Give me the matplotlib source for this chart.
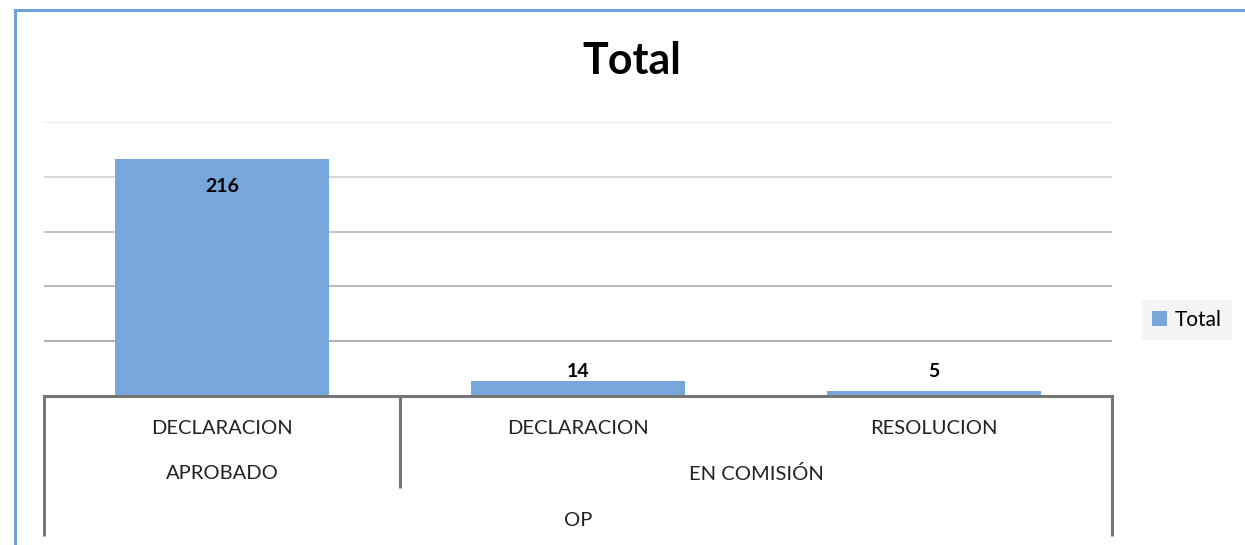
import matplotlib.pyplot as plt
from matplotlib.lines import Line2D
import matplotlib.transforms as mtransforms

plt.rcParams['font.family'] = ['Lato', 'DejaVu Sans']

# datos
tipos = ['DECLARACION', 'DECLARACION', 'RESOLUCION']
estados = ['APROBADO', 'EN COMISIÓN']
estado_grupos = [[0], [1, 2]]   # que tipos van en cada estado
grupo_top = 'OP'
totales = [216, 14, 5]
serie = 'Total'

W, H = 1245, 545
fig = plt.figure(figsize=(W / 100, H / 100), dpi=100)
ax = fig.add_axes([44 / W, (H - 396) / H, 1068 / W, 274 / H])

color_barra = '#77a7da'
x = list(range(len(totales)))
ax.bar(x, totales, width=0.6, color=color_barra, label=serie, zorder=3)

ax.set_xlim(-0.5, len(totales) - 0.5)
ax.set_ylim(0, 250)

# lineas de cuadricula (mas claras arriba)
grid_y = [50, 100, 150, 200, 250]
grid_c = ['#a9a9a9', '#b3b3b3', '#c0c0c0', '#d6d6d6', '#e8e8e8']
for gy, gc in zip(grid_y, grid_c):
    ax.axhline(gy, color=gc, lw=1.3, zorder=1)

for s in ['top', 'right', 'left']:
    ax.spines[s].set_visible(False)
ax.spines['bottom'].set_color('#767676')
ax.spines['bottom'].set_linewidth(2.2)
ax.spines['bottom'].set_zorder(4)
ax.set_xticks([])
ax.set_yticks([])

# etiquetas de datos
for xi, v in zip(x, totales):
    if v > 100:
        ax.annotate(str(v), (xi, v), xytext=(0, -27), textcoords='offset pixels',
                    ha='center', va='center', fontsize=14, fontweight='bold')
    else:
        ax.annotate(str(v), (xi, max(v, 14)), xytext=(0, 9), textcoords='offset pixels',
                    ha='center', va='center', fontsize=14, fontweight='bold')

# eje de categorias multinivel
trans = mtransforms.blended_transform_factory(ax.transData, ax.transAxes)
lc = '#767676'
lw = 2.2
def vline(xv, y0, y1):
    ax.add_line(Line2D([xv, xv], [y0, y1], transform=trans, color=lc, lw=lw,
                       clip_on=False, solid_capstyle='butt'))

y_fondo = -0.51
vline(-0.5, 0, y_fondo)
vline(len(totales) - 0.5, 0, y_fondo)
vline(0.5, 0, -0.335)

for xi, t in zip(x, tipos):
    ax.text(xi, -0.117, t, transform=trans, ha='center', va='center', fontsize=14.5, color='#222222')
for est, g in zip(estados, estado_grupos):
    ax.text(sum(g) / len(g), -0.284, est, transform=trans, ha='center', va='center',
            fontsize=14.5, color='#222222')
ax.text((len(totales) - 1) / 2, -0.455, grupo_top, transform=trans, ha='center', va='center',
        fontsize=14.5, color='#222222')

# titulo
fig.text(632 / W, 1 - 61 / H, 'Total', ha='center', va='center', fontsize=31, fontweight='bold')

# leyenda
leg = ax.legend(loc='center', bbox_to_anchor=(1187 / W, 1 - 320 / H), bbox_transform=fig.transFigure,
                fontsize=15, handlelength=0.7, handleheight=0.7, handletextpad=0.4,
                frameon=True, fancybox=False, borderpad=0.5)
leg.get_frame().set_facecolor('#f3f3f3')
leg.get_frame().set_edgecolor('none')

# borde azul del grafico
borde = '#6fa2da'
fig.add_artist(Line2D([15 / W, 15 / W], [0, 1 - 10 / H], transform=fig.transFigure, color=borde, lw=2.2))
fig.add_artist(Line2D([15 / W, 1], [1 - 10 / H, 1 - 10 / H], transform=fig.transFigure, color=borde, lw=2.2))

fig.savefig('out.png', dpi=100)
